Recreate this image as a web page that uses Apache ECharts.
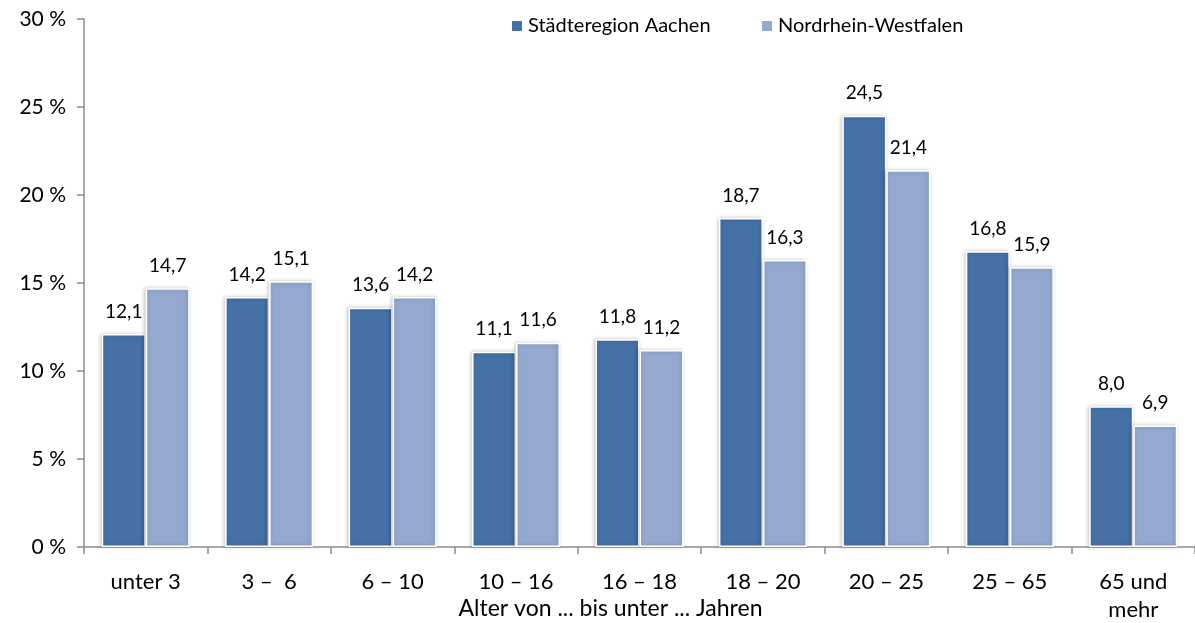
<!DOCTYPE html>
<html><head><meta charset="utf-8">
<script src="https://cdn.jsdelivr.net/npm/echarts@6/dist/echarts.min.js"></script>
<style>html,body{margin:0;padding:0;background:#fff}#c{width:1195px;height:623px}</style>
</head><body><div id="c"></div>
<script>
const categories = ['unter 3', '3 –  6', '6 – 10', '10 – 16', '16 – 18', '18 – 20', '20 – 25', '25 – 65', '65 und\nmehr'];
const seriesNames = ['Städteregion Aachen', 'Nordrhein-Westfalen'];
const aachen = [12.1, 14.2, 13.6, 11.1, 11.8, 18.7, 24.5, 16.8, 8.0];
const nrw = [14.7, 15.1, 14.2, 11.6, 11.2, 16.3, 21.4, 15.9, 6.9];
const yTicks = [0, 5, 10, 15, 20, 25, 30];
const xAxisTitle = 'Alter von ... bis unter ... Jahren';

const FONT = 'Lato';
const colors = ['#4571a7', '#95a9d0'];
const fmt = p => p.value.toFixed(1).replace('.', ',');
function bar(name, data, color) {
  return {
    name, type: 'bar', data, barWidth: 44, barGap: '0%',
    itemStyle: { color, borderColor: '#fff', borderWidth: 1.5,
      shadowColor: 'rgba(0,0,0,0.22)', shadowBlur: 4, shadowOffsetX: -1 },
    label: { show: true, position: 'top', distance: 13, formatter: fmt,
      fontFamily: FONT, fontSize: 19, color: '#000' }
  };
}
const legendText = { fontFamily: FONT, fontSize: 20, color: '#000' };
const chart = echarts.init(document.getElementById('c'), null, { renderer: 'canvas' });
chart.setOption({
  animation: false,
  textStyle: { fontFamily: FONT },
  legend: [
    { data: [seriesNames[0]], top: 11, left: 505, itemWidth: 12, itemHeight: 12, icon: 'rect', itemGap: 5, textStyle: legendText },
    { data: [seriesNames[1]], top: 11, left: 755, itemWidth: 12, itemHeight: 12, icon: 'rect', itemGap: 5, textStyle: legendText }
  ],
  grid: { left: 84, right: 0, top: 19, bottom: 76, containLabel: false, outerBoundsMode: 'none' },
  xAxis: {
    type: 'category', data: categories,
    name: xAxisTitle, nameLocation: 'middle', nameGap: 50, nameMoveOverlap: false,
    nameTextStyle: { fontFamily: FONT, fontSize: 23, color: '#000', verticalAlign: 'top', padding: [0, 58, 0, 0] },
    axisLine: { lineStyle: { color: '#8c8c8c', width: 1.5 } },
    axisTick: { show: true, length: 7, lineStyle: { color: '#8c8c8c', width: 1.5 } },
    axisLabel: { fontFamily: FONT, fontSize: 22, color: '#000', margin: 21, interval: 0, lineHeight: 28 }
  },
  yAxis: {
    type: 'value', min: yTicks[0], max: yTicks[yTicks.length - 1], interval: 5,
    axisLine: { show: true, lineStyle: { color: '#8c8c8c', width: 1.5 } },
    axisTick: { show: true, length: 7, lineStyle: { color: '#8c8c8c', width: 1.5 } },
    splitLine: { show: false },
    axisLabel: { formatter: '{value} %', fontFamily: FONT, fontSize: 21, color: '#000', margin: 18 }
  },
  series: [bar(seriesNames[0], aachen, colors[0]), bar(seriesNames[1], nrw, colors[1])]
});
</script></body></html>
